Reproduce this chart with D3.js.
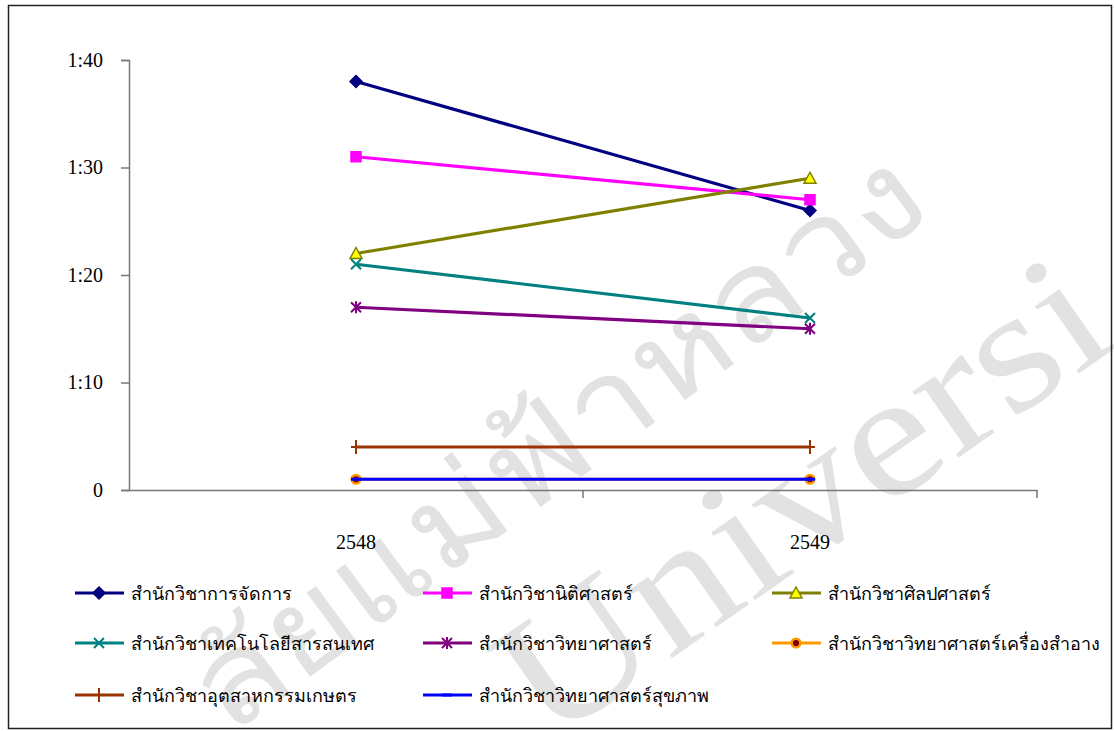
<!DOCTYPE html>
<html><head><meta charset="utf-8">
<script src="https://cdn.jsdelivr.net/npm/d3@7"></script>
<style>
html,body{margin:0;padding:0;background:#fff;}
svg{display:block;}
</style></head>
<body>
<svg id="chart" width="1114" height="731"></svg>
<script>
const years = ["2548", "2549"];
const seriesNames = [
  "สำนักวิชาการจัดการ",
  "สำนักวิชานิติศาสตร์",
  "สำนักวิชาศิลปศาสตร์",
  "สำนักวิชาเทคโนโลยีสารสนเทศ",
  "สำนักวิชาวิทยาศาสตร์",
  "สำนักวิชาวิทยาศาสตร์เครื่องสำอาง",
  "สำนักวิชาอุตสาหกรรมเกษตร",
  "สำนักวิชาวิทยาศาสตร์สุขภาพ"
];
const management = [38, 26];
const law = [31, 27];
const liberalArts = [22, 29];
const infoTech = [21, 16];
const science = [17, 15];
const cosmetic = [1, 1];
const agroIndustry = [4, 4];
const healthScience = [1, 1];
const seriesValues = [management, law, liberalArts, infoTech, science, cosmetic, agroIndustry, healthScience];
const yTicks = [0, 10, 20, 30, 40];
const yTickLabels = ["0", "1:10", "1:20", "1:30", "1:40"];
const watermarkThai = "ลัยแม่ฟ้าหลวง";
const watermarkEng = "Universi";

const styles = [
  {color:"#000080", marker:"diamond", fill:"#000080", mstroke:"#000080"},
  {color:"#FF00FF", marker:"square", fill:"#FF00FF", mstroke:"#FF00FF"},
  {color:"#808000", marker:"triangle", fill:"#FFFF00", mstroke:"#808000"},
  {color:"#008080", marker:"x", fill:"none", mstroke:"#008080"},
  {color:"#800080", marker:"star", fill:"none", mstroke:"#800080"},
  {color:"#FF9900", marker:"circle", fill:"#800000", mstroke:"#FF9900"},
  {color:"#993300", marker:"plus", fill:"none", mstroke:"#993300"},
  {color:"#0000FF", marker:"dash", fill:"none", mstroke:"#0000FF"}
];

const svg = d3.select("#chart");
const serif = "'Liberation Serif','Times New Roman',serif";

// watermark
const wm = svg.append("g").attr("fill", "#e2e2e2").attr("font-family", serif);
wm.append("text").attr("transform", "translate(228,738) rotate(-36.5)")
  .attr("font-size", 125).attr("textLength", 880).attr("lengthAdjust", "spacingAndGlyphs")
  .text(watermarkThai);
wm.append("text").attr("transform", "translate(548,745) rotate(-35)")
  .attr("font-size", 175).attr("textLength", 700).attr("lengthAdjust", "spacingAndGlyphs")
  .text(watermarkEng);

// border
svg.append("rect").attr("x", 8.5).attr("y", 5.5).attr("width", 1103).attr("height", 723)
  .attr("fill", "none").attr("stroke", "#222").attr("stroke-width", 1.5);

const x0 = 129, x1 = 1037, yTop = 60, yBot = 490;
const x = d3.scaleBand().domain(years).range([x0, x1]);
const y = d3.scaleLinear().domain([0, 40]).range([yBot, yTop]);

// axes
const yAxis = d3.axisLeft(y).tickValues(yTicks).tickSize(8).tickPadding(18)
  .tickFormat((d, i) => yTickLabels[i]);
const gy = svg.append("g").attr("transform", `translate(${x0},0)`).call(yAxis);
gy.select(".domain").attr("stroke", "#777").attr("stroke-width", 1.5);
gy.selectAll(".tick line").attr("stroke", "#777").attr("stroke-width", 1.5);
gy.selectAll(".tick text").attr("font-family", serif).attr("font-size", 20).attr("fill", "#000");

const xAxis = d3.axisBottom(x).tickSize(0).tickPadding(45).tickSizeOuter(0);
const gx = svg.append("g").attr("transform", `translate(0,${yBot})`).call(xAxis);
gx.select(".domain").attr("stroke", "#777").attr("stroke-width", 1.5);
gx.selectAll(".tick text").attr("font-family", serif).attr("font-size", 20).attr("fill", "#000");
const boundaries = [x0 + x.bandwidth(), x1];
gx.selectAll(".bt").data(boundaries).enter().append("line")
  .attr("x1", d => d).attr("x2", d => d).attr("y1", 0).attr("y2", 8)
  .attr("stroke", "#777").attr("stroke-width", 1.5);

function markerPath(type) {
  const s = 5;
  switch (type) {
    case "diamond": return `M0,${-s-1}L${s+1},0L0,${s+1}L${-s-1},0Z`;
    case "square": return `M${-s},${-s}H${s}V${s}H${-s}Z`;
    case "triangle": return `M0,${-s-1}L${s+1},${s}L${-s-1},${s}Z`;
    case "x": return `M${-s},${-s}L${s},${s}M${-s},${s}L${s},${-s}`;
    case "star": return `M${-s},${-s}L${s},${s}M${-s},${s}L${s},${-s}M0,${-s-1}V${s+1}`;
    case "plus": return `M0,${-s-2}V${s+2}M${-s},0H${s}`;
    case "circle": return d3.symbol(d3.symbolCircle, 60)();
    case "dash": return `M${-s},0H${s}`;
  }
}
function drawMarker(g, st, cx, cy) {
  const p = g.append("path").attr("d", markerPath(st.marker))
    .attr("transform", `translate(${cx},${cy})`);
  if (["x","star","plus","dash"].includes(st.marker)) {
    p.attr("fill", "none").attr("stroke", st.mstroke).attr("stroke-width", st.marker==="dash"?3:2);
  } else {
    p.attr("fill", st.fill).attr("stroke", st.mstroke).attr("stroke-width", st.marker==="circle"?2.5:1.5);
  }
}

const line = d3.line().x((d, i) => x(years[i]) + x.bandwidth() / 2).y(d => y(d));
const plot = svg.append("g");
seriesValues.forEach((vals, si) => {
  const st = styles[si];
  plot.append("path").datum(vals).attr("d", line)
    .attr("fill", "none").attr("stroke", st.color).attr("stroke-width", 3.2);
  vals.forEach((v, i) => drawMarker(plot, st, x(years[i]) + x.bandwidth() / 2, y(v)));
});

// legend
const legX = [75, 423, 772];
const legY = [593, 643, 695];
const leg = svg.append("g");
seriesNames.forEach((name, i) => {
  const col = i % 3, row = Math.floor(i / 3);
  const lx = legX[col], ly = legY[row];
  const st = styles[i];
  leg.append("line").attr("x1", lx).attr("x2", lx + 49).attr("y1", ly).attr("y2", ly)
    .attr("stroke", st.color).attr("stroke-width", 3.2);
  drawMarker(leg, st, lx + 24, ly);
  leg.append("text").attr("x", lx + 56).attr("y", ly + 7)
    .attr("font-family", serif).attr("font-size", 18).attr("fill", "#000").text(name);
});
</script>
</body></html>
